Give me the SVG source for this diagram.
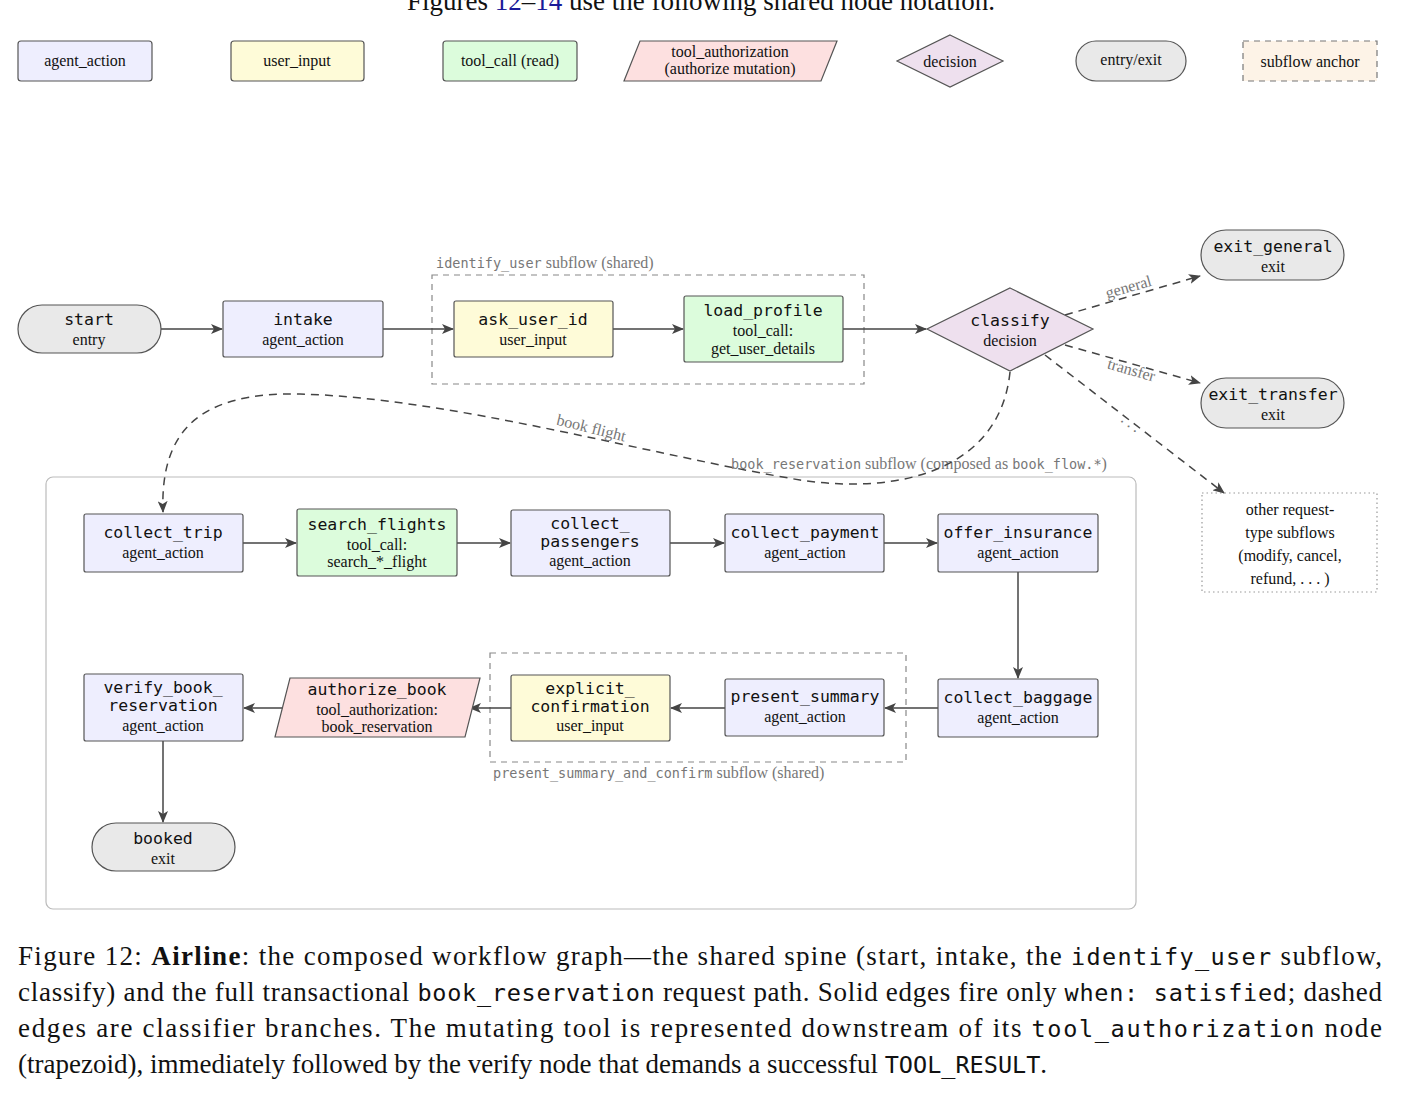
<svg xmlns="http://www.w3.org/2000/svg" width="1402" height="1096" viewBox="0 0 1402 1096">
<style>
.s{font-family:"Liberation Serif",serif;font-size:16px;fill:#111}
.m{font-family:"DejaVu Sans Mono",monospace;font-size:16.5px;fill:#111}
.g{fill:#777}
.aa{fill:#eeeefe;stroke:#555;stroke-width:1.2}
.ui{fill:#fefbd8;stroke:#555;stroke-width:1.2}
.tc{fill:#dcfcdc;stroke:#555;stroke-width:1.2}
.ta{fill:#fde0e0;stroke:#555;stroke-width:1.2}
.dc{fill:#eee0ee;stroke:#555;stroke-width:1.2}
.ex{fill:#e9e9e9;stroke:#555;stroke-width:1.2}
.e{fill:none;stroke:#444;stroke-width:1.5}
.d{fill:none;stroke:#444;stroke-width:1.5;stroke-dasharray:8,6}
.c{font-family:"Liberation Serif",serif;font-size:27px;fill:#111}
.cm{font-family:"DejaVu Sans Mono",monospace;font-size:23.5px}
.sm{font-family:"DejaVu Sans Mono",monospace;font-size:13.5px}
</style>
<defs>
<marker id="ar" viewBox="0 0 12 10" refX="11" refY="5" markerWidth="12" markerHeight="10" markerUnits="userSpaceOnUse" orient="auto"><path d="M0,0 L12,5 L0,10 L3,5 Z" fill="#444"/></marker>
</defs>
<text x="701" y="10" text-anchor="middle" class="c" font-size="24">Figures <tspan fill="#1a1a99">12</tspan>–<tspan fill="#1a1a99">14</tspan> use the following shared node notation.</text>
<g id="legend">
<rect x="18" y="41" width="134" height="40" rx="3" class="aa"/><text x="85" y="66" text-anchor="middle" class="s" font-size="17">agent_action</text>
<rect x="231" y="41" width="133" height="40" rx="3" class="ui"/><text x="297" y="66" text-anchor="middle" class="s" font-size="17">user_input</text>
<rect x="443" y="41" width="134" height="40" rx="3" class="tc"/><text x="510" y="66" text-anchor="middle" class="s" font-size="17">tool_call (read)</text>
<polygon points="640,41 837,41 821,81 624,81" class="ta"/><text x="730" y="57" text-anchor="middle" class="s" font-size="17">tool_authorization</text><text x="730" y="74" text-anchor="middle" class="s" font-size="17">(authorize mutation)</text>
<polygon points="950,35 1003,61 950,87 897,61" class="dc"/><text x="950" y="67" text-anchor="middle" class="s" font-size="17">decision</text>
<rect x="1076" y="41" width="110" height="40" rx="20" class="ex"/><text x="1131" y="65" text-anchor="middle" class="s" font-size="17">entry/exit</text>
<rect x="1243" y="41" width="134" height="40" fill="#fdf3e7" stroke="#777" stroke-width="1.2" stroke-dasharray="6,5"/><text x="1310" y="67" text-anchor="middle" class="s" font-size="17">subflow anchor</text>
</g>
<g id="subflows">
<rect x="432" y="275" width="432" height="109" fill="none" stroke="#888" stroke-width="1.2" stroke-dasharray="6,5"/>
<text x="436" y="268" class="s g" font-size="15"><tspan class="sm g">identify_user</tspan> subflow (shared)</text>
<rect x="46" y="477" width="1090" height="432" rx="7" fill="none" stroke="#bbb" stroke-width="1.2"/>
<text x="731" y="469" class="s g" font-size="15"><tspan class="sm g">book_reservation</tspan> subflow (composed as <tspan class="sm g">book_flow.*</tspan>)</text>
<rect x="490" y="653" width="416" height="109" fill="none" stroke="#888" stroke-width="1.2" stroke-dasharray="6,5"/>
<text x="493" y="778" class="s g" font-size="15"><tspan class="sm g">present_summary_and_confirm</tspan> subflow (shared)</text>
<rect x="1202" y="493" width="175" height="99" fill="none" stroke="#999" stroke-width="1.2" stroke-dasharray="1.5,3"/>
<text text-anchor="middle" class="s" fill="#666" font-size="19"><tspan x="1290" y="515">other request-</tspan><tspan x="1290" y="538">type subflows</tspan><tspan x="1290" y="561">(modify, cancel,</tspan><tspan x="1290" y="584">refund, . . . )</tspan></text>
</g>
<g id="connectors">
<line x1="161" y1="329" x2="222" y2="329" class="e" marker-end="url(#ar)"/>
<line x1="383" y1="329" x2="453" y2="329" class="e" marker-end="url(#ar)"/>
<line x1="613" y1="329" x2="683" y2="329" class="e" marker-end="url(#ar)"/>
<line x1="843" y1="329" x2="926" y2="329" class="e" marker-end="url(#ar)"/>
<line x1="1065" y1="315" x2="1200" y2="276" class="d" marker-end="url(#ar)"/>
<line x1="1065" y1="345" x2="1200" y2="383" class="d" marker-end="url(#ar)"/>
<line x1="1045" y1="355" x2="1224" y2="493" class="d" marker-end="url(#ar)"/>
<path d="M1010,372 C1000,470 900,495 800,480 C650,455 450,398 300,394 C200,392 160,430 163,512" class="d" marker-end="url(#ar)"/>
<text x="1130" y="292" text-anchor="middle" class="s g" transform="rotate(-16 1130 292)">general</text>
<text x="1130" y="375" text-anchor="middle" class="s g" transform="rotate(16 1130 375)">transfer</text>
<text x="1128" y="427" text-anchor="middle" class="s g" transform="rotate(37 1128 427)">. . .</text>
<text x="590" y="433" text-anchor="middle" class="s g" transform="rotate(14 590 433)">book flight</text>
<line x1="243" y1="543" x2="296" y2="543" class="e" marker-end="url(#ar)"/>
<line x1="457" y1="543" x2="510" y2="543" class="e" marker-end="url(#ar)"/>
<line x1="670" y1="543" x2="724" y2="543" class="e" marker-end="url(#ar)"/>
<line x1="884" y1="543" x2="937" y2="543" class="e" marker-end="url(#ar)"/>
<line x1="1018" y1="572" x2="1018" y2="678" class="e" marker-end="url(#ar)"/>
<line x1="938" y1="708" x2="885" y2="708" class="e" marker-end="url(#ar)"/>
<line x1="725" y1="708" x2="671" y2="708" class="e" marker-end="url(#ar)"/>
<line x1="511" y1="708" x2="470" y2="708" class="e" marker-end="url(#ar)"/>
<line x1="285" y1="708" x2="244" y2="708" class="e" marker-end="url(#ar)"/>
<line x1="163" y1="741" x2="163" y2="822" class="e" marker-end="url(#ar)"/>
</g>
<g id="start"><rect x="18" y="305" width="143" height="48" rx="24" class="ex"/><text x="89" y="325" text-anchor="middle" class="m">start</text><text x="89" y="345" text-anchor="middle" class="s">entry</text></g>
<g id="intake"><rect x="223" y="301" width="160" height="56" rx="2" class="aa"/><text x="303" y="325" text-anchor="middle" class="m">intake</text><text x="303" y="345" text-anchor="middle" class="s">agent_action</text></g>
<g id="ask_user_id"><rect x="454" y="301" width="159" height="56" rx="2" class="ui"/><text x="533" y="325" text-anchor="middle" class="m">ask_user_id</text><text x="533" y="345" text-anchor="middle" class="s">user_input</text></g>
<g id="load_profile"><rect x="684" y="296" width="159" height="66" rx="2" class="tc"/><text x="763" y="316" text-anchor="middle" class="m">load_profile</text><text x="763" y="336" text-anchor="middle" class="s">tool_call:</text><text x="763" y="354" text-anchor="middle" class="s">get_user_details</text></g>
<g id="classify"><polygon points="1010,288 1093,329 1010,371 927,329" class="dc"/><text x="1010" y="326" text-anchor="middle" class="m">classify</text><text x="1010" y="346" text-anchor="middle" class="s">decision</text></g>
<g id="exit_general"><rect x="1201" y="230" width="143" height="50" rx="25" class="ex"/><text x="1273" y="252" text-anchor="middle" class="m">exit_general</text><text x="1273" y="272" text-anchor="middle" class="s">exit</text></g>
<g id="exit_transfer"><rect x="1201" y="378" width="143" height="50" rx="25" class="ex"/><text x="1273" y="400" text-anchor="middle" class="m">exit_transfer</text><text x="1273" y="420" text-anchor="middle" class="s">exit</text></g>
<g id="collect_trip"><rect x="84" y="514" width="159" height="58" rx="2" class="aa"/><text x="163" y="538" text-anchor="middle" class="m">collect_trip</text><text x="163" y="558" text-anchor="middle" class="s">agent_action</text></g>
<g id="search_flights"><rect x="297" y="509" width="160" height="67" rx="2" class="tc"/><text x="377" y="530" text-anchor="middle" class="m">search_flights</text><text x="377" y="550" text-anchor="middle" class="s">tool_call:</text><text x="377" y="567" text-anchor="middle" class="s">search_*_flight</text></g>
<g id="collect_passengers"><rect x="511" y="510" width="159" height="66" rx="2" class="aa"/><text x="590" y="529" text-anchor="middle" class="m">collect_</text><text x="590" y="547" text-anchor="middle" class="m">passengers</text><text x="590" y="566" text-anchor="middle" class="s">agent_action</text></g>
<g id="collect_payment"><rect x="725" y="514" width="159" height="58" rx="2" class="aa"/><text x="805" y="538" text-anchor="middle" class="m">collect_payment</text><text x="805" y="558" text-anchor="middle" class="s">agent_action</text></g>
<g id="offer_insurance"><rect x="938" y="514" width="160" height="58" rx="2" class="aa"/><text x="1018" y="538" text-anchor="middle" class="m">offer_insurance</text><text x="1018" y="558" text-anchor="middle" class="s">agent_action</text></g>
<g id="collect_baggage"><rect x="938" y="679" width="160" height="58" rx="2" class="aa"/><text x="1018" y="703" text-anchor="middle" class="m">collect_baggage</text><text x="1018" y="723" text-anchor="middle" class="s">agent_action</text></g>
<g id="present_summary"><rect x="725" y="679" width="159" height="57" rx="2" class="aa"/><text x="805" y="702" text-anchor="middle" class="m">present_summary</text><text x="805" y="722" text-anchor="middle" class="s">agent_action</text></g>
<g id="explicit_confirmation"><rect x="511" y="675" width="159" height="66" rx="2" class="ui"/><text x="590" y="694" text-anchor="middle" class="m">explicit_</text><text x="590" y="712" text-anchor="middle" class="m">confirmation</text><text x="590" y="731" text-anchor="middle" class="s">user_input</text></g>
<g id="authorize_book"><polygon points="290,678 480,678 465,737 275,737" class="ta"/><text x="377" y="695" text-anchor="middle" class="m">authorize_book</text><text x="377" y="715" text-anchor="middle" class="s">tool_authorization:</text><text x="377" y="732" text-anchor="middle" class="s">book_reservation</text></g>
<g id="verify_book_reservation"><rect x="84" y="674" width="159" height="67" rx="2" class="aa"/><text x="163" y="693" text-anchor="middle" class="m">verify_book_</text><text x="163" y="711" text-anchor="middle" class="m">reservation</text><text x="163" y="731" text-anchor="middle" class="s">agent_action</text></g>
<g id="booked"><rect x="92" y="823" width="143" height="48" rx="24" class="ex"/><text x="163" y="844" text-anchor="middle" class="m">booked</text><text x="163" y="864" text-anchor="middle" class="s">exit</text></g>
<g id="caption">
<text x="18" y="965" class="c" textLength="1364" lengthAdjust="spacing">Figure 12: <tspan font-weight="bold">Airline</tspan>: the composed workflow graph—the shared spine (start, intake, the <tspan class="cm">identify_user</tspan> subflow,</text>
<text x="18" y="1001" class="c" textLength="1364" lengthAdjust="spacing">classify) and the full transactional <tspan class="cm">book_reservation</tspan> request path. Solid edges fire only <tspan class="cm">when: satisfied</tspan>; dashed</text>
<text x="18" y="1037" class="c" textLength="1364" lengthAdjust="spacing">edges are classifier branches.  The mutating tool is represented downstream of its <tspan class="cm">tool_authorization</tspan> node</text>
<text x="18" y="1073" class="c">(trapezoid), immediately followed by the verify node that demands a successful <tspan class="cm">TOOL_RESULT</tspan>.</text>
</g>
</svg>
